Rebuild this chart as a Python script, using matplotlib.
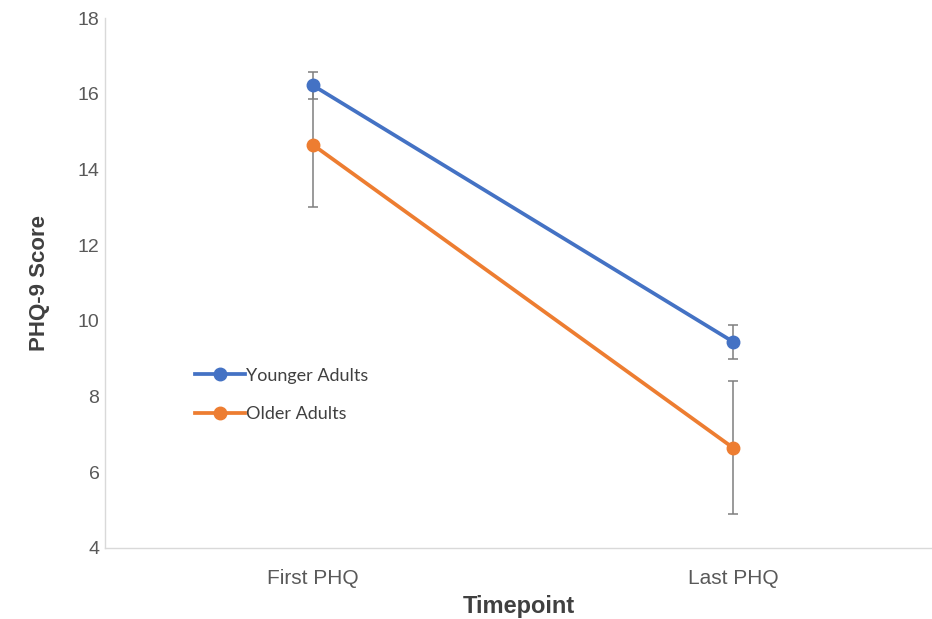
import matplotlib
matplotlib.use("Agg")
import matplotlib.pyplot as plt

categories = ["First PHQ", "Last PHQ"]
younger = [16.22, 9.45]
younger_err = [0.36, 0.45]
older = [14.65, 6.65]
older_err = [1.63, 1.75]
series_names = ["Younger Adults", "Older Adults"]
yticks = [4, 6, 8, 10, 12, 14, 16, 18]

plt.rcParams['font.family'] = ['Liberation Sans', 'DejaVu Sans']

fig = plt.figure(figsize=(9.32, 6.19), dpi=100)
ax = fig.add_axes([105/932, 1-548/619, 827/932, 530/619])

x = list(range(len(categories)))
blue = '#4472C4'
orange = '#ED7D31'
errc = '#7F7F7F'

ax.errorbar(x, older, yerr=older_err, fmt='none', ecolor=errc, elinewidth=1.1,
            capsize=3.8, capthick=1.1, zorder=1)
ax.errorbar(x, younger, yerr=younger_err, fmt='none', ecolor=errc, elinewidth=1.1,
            capsize=3.8, capthick=1.1, zorder=1)
ax.plot(x, younger, color=blue, lw=2.7, marker='o', ms=9, label=series_names[0], zorder=3)
ax.plot(x, older, color=orange, lw=2.7, marker='o', ms=9, label=series_names[1], zorder=2)

ax.set_xlim(-0.495, 1.474)
ax.set_ylim(4, 18)
ax.set_xticks(x)
ax.set_xticklabels(categories)
ax.set_yticks(yticks)
ax.tick_params(axis='both', length=0, colors='#595959')
ax.tick_params(axis='y', labelsize=14, pad=4)
ax.tick_params(axis='x', labelsize=15, pad=15)

for s in ['top', 'right']:
    ax.spines[s].set_visible(False)
for s in ['left', 'bottom']:
    ax.spines[s].set_color('#D9D9D9')
    ax.spines[s].set_linewidth(1)

ax.set_ylabel("PHQ-9 Score", fontsize=16, fontweight='bold', color='#404040', labelpad=20)
ax.set_xlabel("Timepoint", fontsize=17, fontweight='bold', color='#404040', labelpad=5)

leg = ax.legend(loc='center left', bbox_to_anchor=((195-105)/827, (548-395)/530),
                frameon=False, prop={'family': 'Lato', 'size': 13},
                handlelength=2.75, handletextpad=0.05, labelspacing=1.25,
                borderaxespad=0, borderpad=0)
for t in leg.get_texts():
    t.set_color('#404040')

fig.savefig("out.png", dpi=100)
